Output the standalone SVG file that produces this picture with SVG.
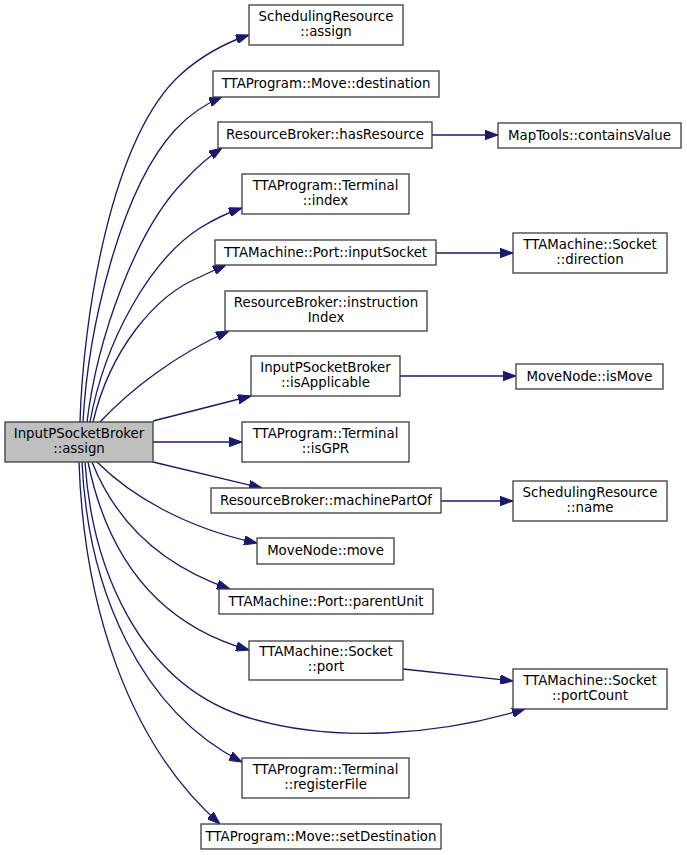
<svg xmlns="http://www.w3.org/2000/svg" width="687" height="855" viewBox="0 0 687 855">
<defs>
<style>
.n rect{fill:#ffffff;stroke:#404040;stroke-width:1.33}
.n.root rect{fill:#bfbfbf}
.n text{font-family:"DejaVu Sans","Liberation Sans",sans-serif;font-size:13.33px;fill:#000;text-anchor:middle}
.e path{fill:none;stroke:#191970;stroke-width:1.33;marker-end:url(#ah)}
</style>
<marker id="ah" markerUnits="userSpaceOnUse" markerWidth="13" markerHeight="9.4" refX="13" refY="4.7" orient="auto" viewBox="0 0 13 9.4">
<path d="M0,0 L13,4.7 L0,9.4 Z" fill="#191970" stroke="#191970" stroke-width="1"/>
</marker>
</defs>
<rect width="687" height="855" fill="#ffffff"/>
<g id="connectors" class="e">
<path d="M80,422 C83,320 110,140 180,75 C200,57 222,44 249,35"/>
<path d="M83,422 C88,330 120,190 175,130 C188,116 203,105 222,97"/>
<path d="M87,422 C97,340 135,230 185,180 C196,168 208,157 222,148"/>
<path d="M90,422 C105,340 150,260 200,228 C213,220 227,213 242,208"/>
<path d="M93,422 C110,350 155,295 200,277 C208,273 217,269 226,265"/>
<path d="M100,422 C130,390 175,355 229,331"/>
<path d="M153,421 L251,396"/>
<path d="M153,442 L242,442"/>
<path d="M153,462 L262,488"/>
<path d="M97,462 C130,495 185,528 257,543"/>
<path d="M92,462 C115,520 160,565 230,589"/>
<path d="M88,462 C108,560 160,625 249,650"/>
<path d="M85,462 C92,570 140,680 240,715 C330,745 440,735 525,709"/>
<path d="M82,462 C88,590 140,710 242,762"/>
<path d="M79,462 C84,610 130,745 220,824"/>
<path d="M432,135 L498,135"/>
<path d="M436,253 L513,253"/>
<path d="M400,376 L516,376"/>
<path d="M441,501 L513,501"/>
<path d="M403,669 L513,681"/>
</g>
<g id="root" class="n root"><rect x="5" y="422" width="148" height="40"/><text x="79" y="437.5">InputPSocketBroker</text><text x="79" y="452.5">::assign</text></g>
<g id="sr_assign" class="n"><rect x="249" y="5" width="154" height="40"/><text x="326" y="20.5">SchedulingResource</text><text x="326" y="35.5">::assign</text></g>
<g id="move_destination" class="n"><rect x="213" y="71" width="226" height="26"/><text x="326" y="88">TTAProgram::Move::destination</text></g>
<g id="rb_hasResource" class="n"><rect x="218" y="122" width="214" height="26"/><text x="325" y="139">ResourceBroker::hasResource</text></g>
<g id="containsValue" class="n"><rect x="498" y="123" width="183" height="25"/><text x="589.5" y="140">MapTools::containsValue</text></g>
<g id="terminal_index" class="n"><rect x="242" y="174" width="167" height="40"/><text x="325.5" y="189.5">TTAProgram::Terminal</text><text x="325.5" y="204.5">::index</text></g>
<g id="port_inputSocket" class="n"><rect x="215" y="240" width="221" height="25"/><text x="325.5" y="257">TTAMachine::Port::inputSocket</text></g>
<g id="socket_direction" class="n"><rect x="513" y="233" width="154" height="40"/><text x="590" y="248.5">TTAMachine::Socket</text><text x="590" y="263.5">::direction</text></g>
<g id="rb_instructionIndex" class="n"><rect x="225" y="291" width="202" height="40"/><text x="326" y="306.5">ResourceBroker::instruction</text><text x="326" y="321.5">Index</text></g>
<g id="isApplicable" class="n"><rect x="251" y="356" width="149" height="40"/><text x="325.5" y="371.5">InputPSocketBroker</text><text x="325.5" y="386.5">::isApplicable</text></g>
<g id="isMove" class="n"><rect x="516" y="364" width="147" height="25"/><text x="589.5" y="381">MoveNode::isMove</text></g>
<g id="terminal_isGPR" class="n"><rect x="242" y="422" width="167" height="40"/><text x="325.5" y="437.5">TTAProgram::Terminal</text><text x="325.5" y="452.5">::isGPR</text></g>
<g id="machinePartOf" class="n"><rect x="211" y="488" width="230" height="25"/><text x="326" y="505">ResourceBroker::machinePartOf</text></g>
<g id="sr_name" class="n"><rect x="513" y="481" width="154" height="40"/><text x="590" y="496.5">SchedulingResource</text><text x="590" y="511.5">::name</text></g>
<g id="movenode_move" class="n"><rect x="257" y="538" width="137" height="26"/><text x="325.5" y="555">MoveNode::move</text></g>
<g id="parentUnit" class="n"><rect x="219" y="589" width="214" height="25"/><text x="326" y="606">TTAMachine::Port::parentUnit</text></g>
<g id="socket_port" class="n"><rect x="249" y="641" width="154" height="39"/><text x="326" y="656">TTAMachine::Socket</text><text x="326" y="671">::port</text></g>
<g id="socket_portCount" class="n"><rect x="513" y="669" width="154" height="40"/><text x="590" y="684.5">TTAMachine::Socket</text><text x="590" y="699.5">::portCount</text></g>
<g id="terminal_registerFile" class="n"><rect x="242" y="758" width="167" height="40"/><text x="325.5" y="773.5">TTAProgram::Terminal</text><text x="325.5" y="788.5">::registerFile</text></g>
<g id="move_setDestination" class="n"><rect x="201" y="824" width="240" height="25"/><text x="321" y="841">TTAProgram::Move::setDestination</text></g>
</svg>
